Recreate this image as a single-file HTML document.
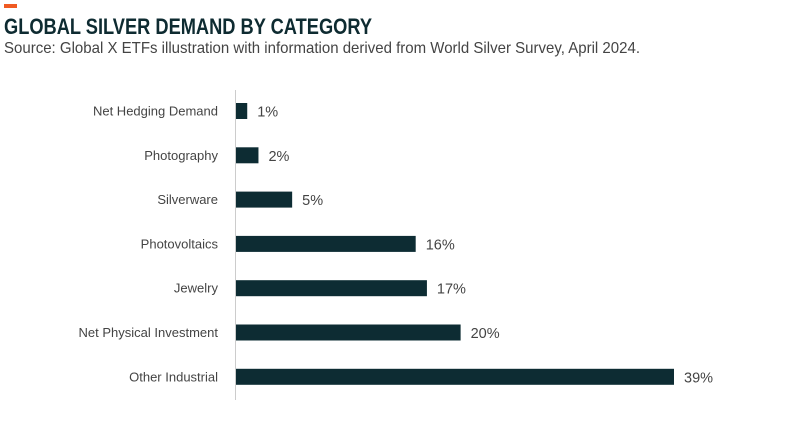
<!DOCTYPE html>
<html><head><meta charset="utf-8"><style>
body{margin:0;background:#fff;}
svg{display:block;font-family:"Liberation Sans",sans-serif;}
</style></head><body>
<svg id="chart" width="800" height="444">
<rect x="4" y="4" width="13" height="4" fill="#f05a22"/>
<text x="4" y="34" font-size="22" font-weight="bold" fill="#0e2b31" textLength="368" lengthAdjust="spacingAndGlyphs">GLOBAL SILVER DEMAND BY CATEGORY</text>
<text x="4" y="53" font-size="16" fill="#444" textLength="636" lengthAdjust="spacingAndGlyphs">Source: Global X ETFs illustration with information derived from World Silver Survey, April 2024.</text>
<line x1="235.5" y1="90" x2="235.5" y2="400" stroke="#ccc" stroke-width="1"/>
<g id="bars"></g>
</svg>
<script>
const categories=["Net Hedging Demand","Photography","Silverware","Photovoltaics","Jewelry","Net Physical Investment","Other Industrial"];
const values=[1,2,5,16,17,20,39];
const valueLabels=["1%","2%","5%","16%","17%","20%","39%"];
const x0=236, scale=438/39, yTop=111, step=44.3, bh=16;
const xf=v=>x0+v*scale, yf=i=>yTop+i*step;
const g=document.getElementById('bars'), ns="http://www.w3.org/2000/svg";
categories.forEach((c,i)=>{
 const y=yf(i);
 const r=document.createElementNS(ns,'rect');
 r.setAttribute('x',x0);r.setAttribute('y',y-bh/2);r.setAttribute('width',xf(values[i])-x0);r.setAttribute('height',bh);r.setAttribute('fill','#0d2c33');
 
 
 g.appendChild(r);
 const t=document.createElementNS(ns,'text');
 t.setAttribute('x',218);t.setAttribute('y',y+4.5);t.setAttribute('text-anchor','end');t.setAttribute('font-size','13');t.setAttribute('fill','#444');t.textContent=c;
 
 
 g.appendChild(t);
 const v=document.createElementNS(ns,'text');
 v.setAttribute('x',xf(values[i])+10);v.setAttribute('y',y+5.5);v.setAttribute('font-size','14.5');v.setAttribute('fill','#444');v.textContent=valueLabels[i];
 
 
 g.appendChild(v);
});
</script>
</body></html>
